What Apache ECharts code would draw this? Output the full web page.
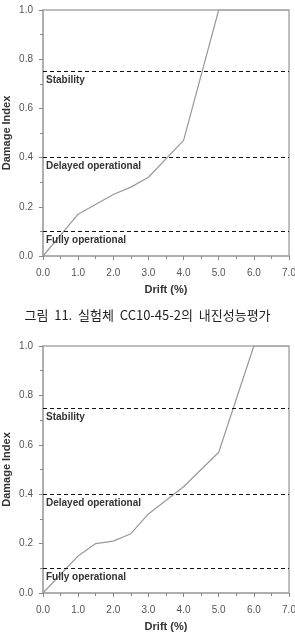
<!DOCTYPE html>
<html>
<head>
<meta charset="utf-8">
<script src="https://cdn.jsdelivr.net/npm/echarts@6/dist/echarts.min.js"></script>
<style>
html,body{margin:0;padding:0;background:#fff;}
#c{width:295px;height:633px;}
</style>
</head>
<body>
<div id="c"></div>
<script>
// Chart 1 (top) data
const drift1 = [0.0, 1.0, 2.0, 2.5, 3.0, 4.0, 5.0, 7.0];
const damage1 = [0.0, 0.17, 0.25, 0.28, 0.32, 0.47, 1.0, 1.0];
// Chart 2 (bottom) data
const drift2 = [0.0, 1.0, 1.5, 2.0, 2.5, 3.0, 4.0, 4.5, 5.0, 6.0, 7.0];
const damage2 = [0.0, 0.15, 0.20, 0.21, 0.24, 0.32, 0.43, 0.50, 0.57, 1.0, 1.0];
// Performance limit lines
const limitValues = [0.75, 0.4, 0.1];
const limitNames = ['Stability', 'Delayed operational', 'Fully operational'];
// Axis ranges / ticks
const xTicks = ['0.0','1.0','2.0','3.0','4.0','5.0','6.0','7.0'];
const yTicks = ['0.0','0.2','0.4','0.6','0.8','1.0'];
const caption = '그림  11.  실험체  CC10-45-2의  내진성능평가';

const font = 'Arial, "Liberation Sans", sans-serif';
const chart = echarts.init(document.getElementById('c'), null, {renderer:'canvas'});

function xAxis(gi){
  return {
    gridIndex: gi, type:'value', min:0, max:7, interval:1,
    name:'Drift (%)', nameLocation:'middle', nameGap:28, nameMoveOverlap:false,
    nameTextStyle:{fontFamily:font, fontWeight:'bold', fontSize:11, color:'#333'},
    axisLine:{show:true, lineStyle:{color:'#aaa', width:1.5}},
    axisTick:{show:true, length:4, lineStyle:{color:'#888'}},
    minorTick:{show:true, splitNumber:2, length:3, lineStyle:{color:'#888'}},
    axisLabel:{fontFamily:font, fontSize:10, color:'#555', margin:12,
      formatter:v=>xTicks[Math.round(v)]},
    splitLine:{show:false}
  };
}
function yAxis(gi){
  return {
    gridIndex: gi, type:'value', min:0, max:1, interval:0.2,
    name:'Damage Index', nameLocation:'middle', nameGap:31, nameMoveOverlap:false,
    nameTextStyle:{fontFamily:font, fontWeight:'bold', fontSize:11, color:'#333'},
    axisLine:{show:true, lineStyle:{color:'#aaa', width:1.5}},
    axisTick:{show:true, length:4, lineStyle:{color:'#888'}},
    minorTick:{show:true, splitNumber:2, length:3, lineStyle:{color:'#888'}},
    axisLabel:{fontFamily:font, fontSize:10, color:'#555', margin:10,
      formatter:v=>yTicks[Math.round(v*5)]},
    splitLine:{show:false}
  };
}
function limits(){
  return {
    silent:true, symbol:['none','none'],
    lineStyle:{type:[4,3], color:'#111', width:1.2},
    data: limitValues.map((v,i)=>({
      yAxis:v,
      label:{show:true, formatter:limitNames[i], position:'insideStartBottom',
        fontFamily:font, fontWeight:'bold', fontSize:10, color:'#333', distance:[3,4]}
    }))
  };
}
function series(gi, xs, ys){
  return {
    type:'line', xAxisIndex:gi, yAxisIndex:gi,
    data: xs.map((x,i)=>[x, ys[i]]),
    showSymbol:false, symbol:'none',
    lineStyle:{color:'#999', width:1.2},
    markLine: limits(),
    z:3
  };
}

chart.setOption({
  animation:false,
  backgroundColor:'#fff',
  title:{
    text: caption, left:'center', top:304,
    textStyle:{fontFamily:'"Noto Sans CJK KR", sans-serif', fontSize:13, fontWeight:'normal', color:'#222'}
  },
  grid:[
    {left:43, top:10, width:246, height:246, outerBoundsMode:'none', containLabel:false, show:true, borderColor:'#aaa', borderWidth:1.5, backgroundColor:'transparent'},
    {left:43, top:346, width:246, height:247, outerBoundsMode:'none', containLabel:false, show:true, borderColor:'#aaa', borderWidth:1.5, backgroundColor:'transparent'}
  ],
  xAxis:[xAxis(0), xAxis(1)],
  yAxis:[yAxis(0), yAxis(1)],
  series:[series(0, drift1, damage1), series(1, drift2, damage2)]
});
</script>
</body>
</html>
